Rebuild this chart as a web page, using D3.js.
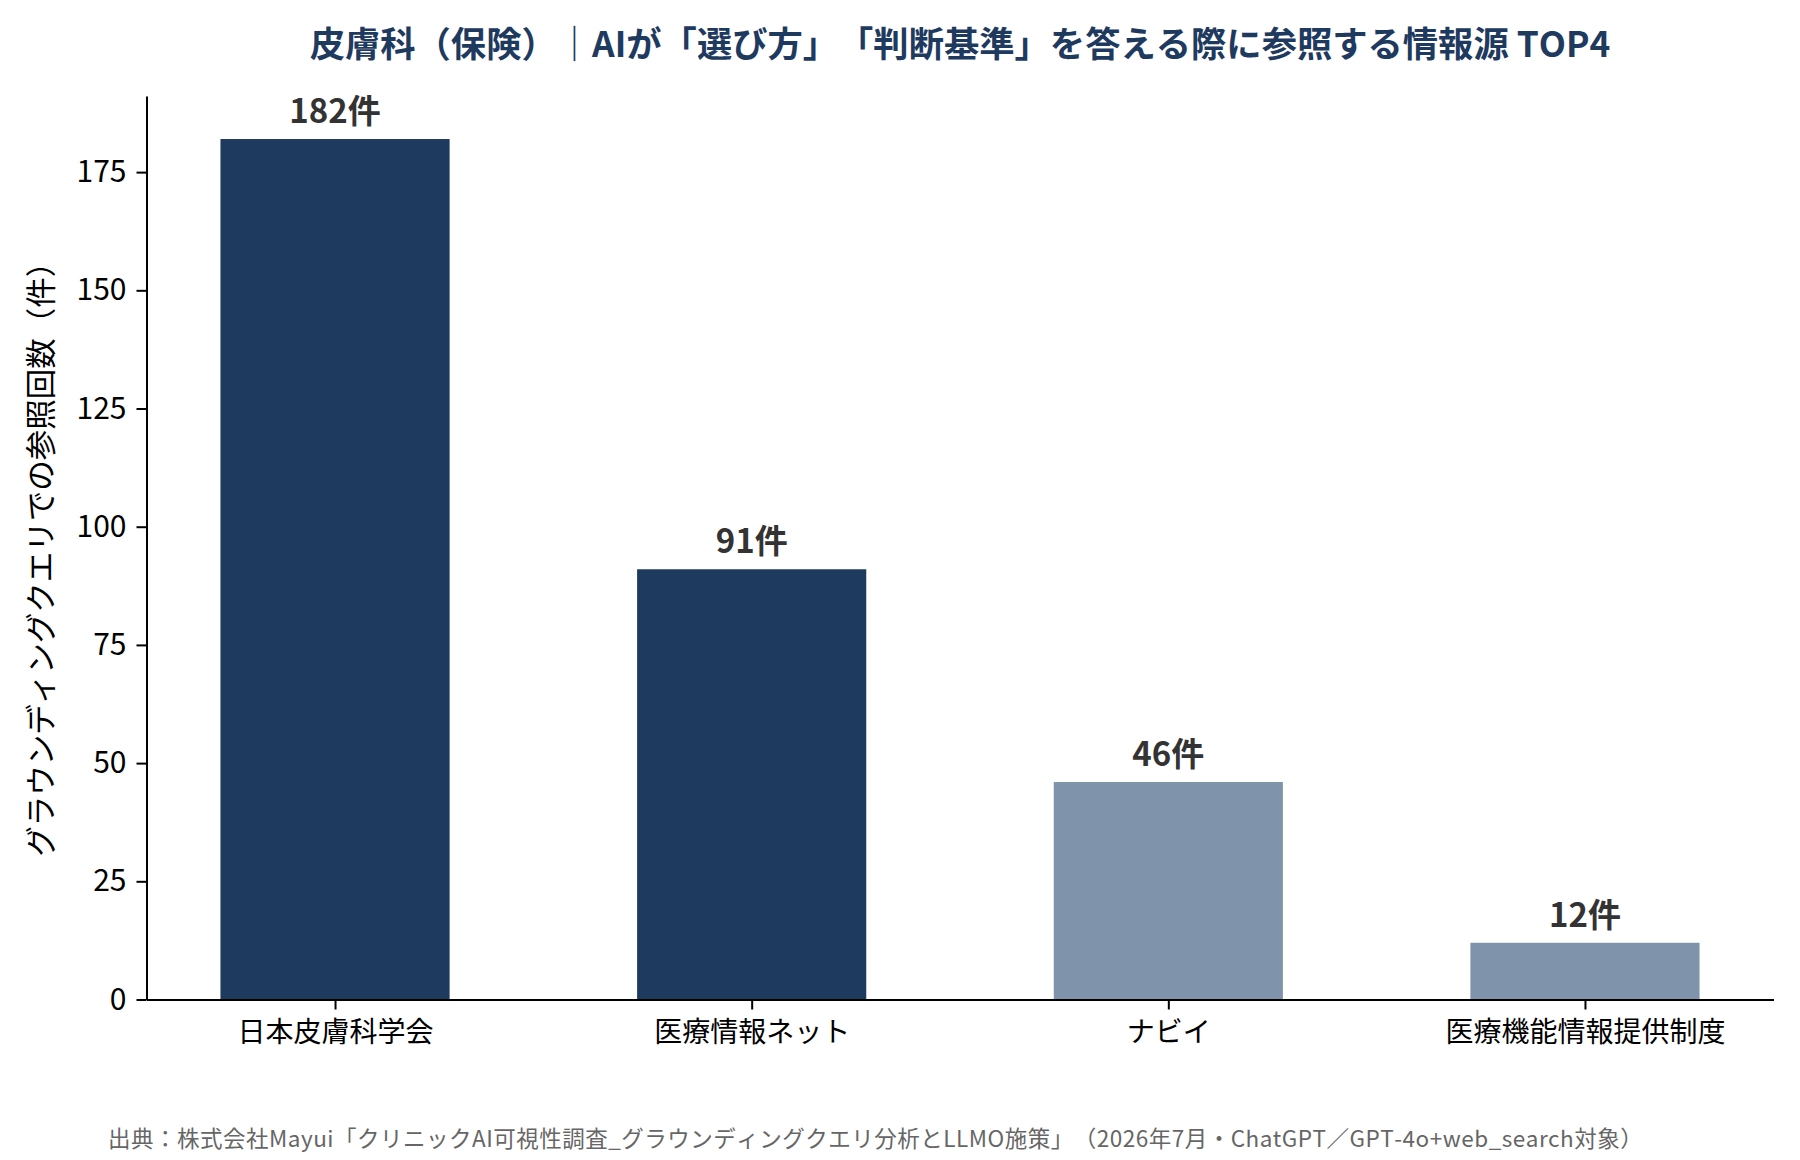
<!DOCTYPE html>
<html>
<head>
<meta charset="utf-8">
<script src="https://cdn.jsdelivr.net/npm/d3@7"></script>
<style>
  html, body { margin: 0; padding: 0; background: #fff; }
  svg { display: block; }
  text { font-family: "Noto Sans CJK JP", "Noto Sans", sans-serif; text-spacing-trim: space-all; font-kerning: none; }
</style>
</head>
<body>
<svg id="chart" width="1800" height="1160"></svg>
<script>
const categories = ["日本皮膚科学会", "医療情報ネット", "ナビイ", "医療機能情報提供制度"];
const counts = [182, 91, 46, 12];
const barColors = ["#1f3a5f", "#1f3a5f", "#7f94ab", "#7f94ab"];
const yTicks = [0, 25, 50, 75, 100, 125, 150, 175];
const titleText = "皮膚科（保険）｜AIが「選び方」「判断基準」を答える際に参照する情報源 TOP4";
const yLabelText = "グラウンディングクエリでの参照回数（件）";
const sourceText = "出典：株式会社Mayui「クリニックAI可視性調査_グラウンディングクエリ分析とLLMO施策」（2026年7月・ChatGPT／GPT-4o+web_search対象）";

const svg = d3.select("#chart");
const plotLeft = 146.5, plotRight = 1773.5, plotTop = 96, plotBottom = 999.5;
const barW = 0.55;

const x = d3.scaleLinear().domain([-0.4525, categories.length - 1 + 0.4525]).range([plotLeft, plotRight]);
const yMax = d3.max(counts) * 1.05;
const y = d3.scaleLinear().domain([0, yMax]).range([plotBottom, plotTop]);

// bars
svg.append("g").selectAll("rect").data(counts).join("rect")
  .attr("x", (d, i) => x(i - barW / 2))
  .attr("width", (d, i) => x(i + barW / 2) - x(i - barW / 2))
  .attr("y", d => y(d))
  .attr("height", d => y(0) - y(d))
  .attr("fill", (d, i) => barColors[i]);

// value labels
svg.append("g").selectAll("text").data(counts).join("text")
  .attr("x", (d, i) => x(i))
  .attr("y", d => y(d) - 16)
  .attr("text-anchor", "middle")
  .attr("font-size", 33)
  .attr("font-weight", "bold")
  .attr("fill", "#333333")
  .text(d => d + "件");

// y axis
const yAxis = svg.append("g").attr("transform", `translate(${plotLeft},0)`)
  .call(d3.axisLeft(y).tickValues(yTicks).tickSize(10).tickPadding(10).tickSizeOuter(0));
yAxis.select(".domain").attr("stroke", "#000").attr("stroke-width", 2);
yAxis.selectAll(".tick line").attr("stroke", "#000").attr("stroke-width", 2);
yAxis.selectAll(".tick text").attr("font-size", 30).attr("fill", "#000")
  .attr("font-family", "'Noto Sans CJK JP', sans-serif");

// x axis
const xAxis = svg.append("g").attr("transform", `translate(0,${plotBottom})`)
  .call(d3.axisBottom(x).tickValues(d3.range(categories.length)).tickFormat(i => categories[i])
    .tickSize(10).tickPadding(13).tickSizeOuter(0));
xAxis.select(".domain").attr("stroke", "#000").attr("stroke-width", 2);
xAxis.selectAll(".tick line").attr("stroke", "#000").attr("stroke-width", 2);
xAxis.selectAll(".tick text").attr("font-size", 28).attr("fill", "#000")
  .attr("font-family", "'Noto Sans CJK JP', sans-serif");

// y label
svg.append("text")
  .attr("transform", `translate(52,${(plotTop + plotBottom) / 2 + 4}) rotate(-90)`)
  .attr("text-anchor", "middle")
  .attr("font-size", 30.5)
  .attr("fill", "#000")
  .text(yLabelText);

// title
svg.append("text")
  .attr("x", (plotLeft + plotRight) / 2)
  .attr("y", 57)
  .attr("text-anchor", "middle")
  .attr("font-size", 35.3)
  .attr("font-weight", "bold")
  .attr("fill", "#1f3a5f")
  .text(titleText);

// source
svg.append("text")
  .attr("x", 108)
  .attr("y", 1147)
  .attr("font-size", 22.5)
  .attr("letter-spacing", 0.5)
  .attr("fill", "#666666")
  .text(sourceText);
</script>
</body>
</html>
